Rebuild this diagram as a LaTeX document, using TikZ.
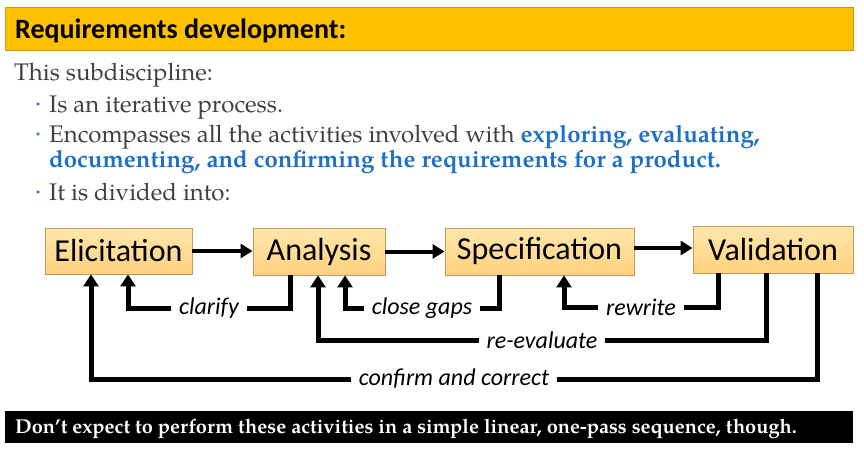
\documentclass[tikz,border=0pt]{standalone}
\usepackage{fontspec}
\setmainfont{TeX Gyre Pagella}
\setsansfont{Carlito}
\usetikzlibrary{arrows.meta}

\definecolor{hdrfill}{HTML}{FFC000}
\definecolor{hdrline}{HTML}{D09A10}
\definecolor{bodytext}{HTML}{404040}
\definecolor{accent}{HTML}{1F6FC5}
\definecolor{bulletc}{HTML}{4F81BD}
\definecolor{boxtop}{HTML}{FFE6AC}
\definecolor{boxbot}{HTML}{FFD27E}
\definecolor{boxline}{HTML}{C49A58}

\tikzset{
  header/.style={draw=hdrline, line width=1.2pt, fill=hdrfill, anchor=north west,
    minimum width=848pt, minimum height=43pt, inner sep=0pt},
  bodytxt/.style={anchor=base west, inner sep=0pt, text=bodytext,
    font=\fontsize{24}{28}\selectfont},
  stage/.style={draw=boxline, line width=0.9pt, top color=boxtop, bottom color=boxbot,
    inner sep=0pt, font=\sffamily\fontsize{32}{38}\selectfont},
  fwd/.style={line width=4pt, -{Triangle[width=14pt,length=12pt]}},
  fb/.style={line width=5pt, line join=miter, -{Triangle[width=15pt,length=12pt]}},
  lbl/.style={fill=white, inner xsep=8pt, inner ysep=1pt,
    font=\sffamily\itshape\fontsize{24}{28}\selectfont},
}

\begin{document}
\begin{tikzpicture}[x=1pt, y=-1pt]
\useasboundingbox (0,0) rectangle (864,452);

% title bar
\node[header] (hdr) at (5,7) {};
\node[anchor=base west, inner sep=0pt, font=\sffamily\bfseries\fontsize{28}{32}\selectfont]
  (title) at (15,38) {Requirements development:};

% bulleted text
\node[bodytxt] (intro) at (14,80) {This subdiscipline:};
\fill[bulletc] (38,104) circle (1.9pt);
\node[bodytxt] (b1) at (49,112) {Is an iterative process.};
\fill[bulletc] (38,134) circle (1.9pt);
\node[bodytxt] (b2) at (49,142) {Encompasses all the activities involved with
  \textcolor{accent}{\bfseries exploring, evaluating,}};
\node[bodytxt, text=accent, font=\bfseries\fontsize{24}{28}\selectfont] (b2b) at (49,167)
  {documenting, and confirming the requirements for a product.};
\fill[bulletc] (38,192) circle (1.9pt);
\node[bodytxt] (b3) at (49,200) {It is divided into:};

% process stages
\node[stage, minimum width=147pt, minimum height=46pt] (eli)  at (118.5,251) {Elicitation};
\node[stage, minimum width=132pt, minimum height=47pt] (ana)  at (319,251.5) {Analysis};
\node[stage, minimum width=189pt, minimum height=47pt] (spec) at (539.5,251.5) {Specification};
\node[stage, minimum width=160pt, minimum height=47pt] (val)  at (773,249.5) {Validation};

% forward flow
\draw[fwd] (eli.east) -- (ana.west |- eli.east);
\draw[fwd] (ana.east) -- (spec.west |- ana.east);
\draw[fwd] ([yshift=3.5pt]spec.east) -- (val.west |- 0,248);

% feedback loops
\draw[fb] (ana.south -| 290,0) -- (290,308) -- node[lbl] (lclar) {clarify} (128,308) -- (eli.south -| 128,0);
\draw[fb] (spec.south -| 499,0) -- (499,308) -- node[lbl] (lgaps) {close gaps} (345,308) -- (ana.south -| 345,0);
\draw[fb] (val.south -| 718,0) -- (718,307) -- node[lbl] (lrew) {rewrite} (564,307) -- (spec.south -| 564,0);
\draw[fb] (val.south -| 766,0) -- (766,340) -- node[lbl] (lreev) {re-evaluate} (318,340) -- (ana.south -| 318,0);
\draw[fb] (val.south -| 817,0) -- (817,379) -- node[lbl] (lconf) {confirm and correct} (91,379) -- (eli.south -| 91,0);

% closing note
\node[fill=black, anchor=north west, minimum width=848pt, minimum height=32pt, inner sep=0pt]
  (note) at (5,411) {};
\node[anchor=base west, inner sep=0pt, text=white, font=\bfseries\fontsize{20}{24}\selectfont]
  (notetxt) at (15,433) {Don’t expect to perform these activities in a simple linear, one-pass sequence, though.};
\end{tikzpicture}
\end{document}
